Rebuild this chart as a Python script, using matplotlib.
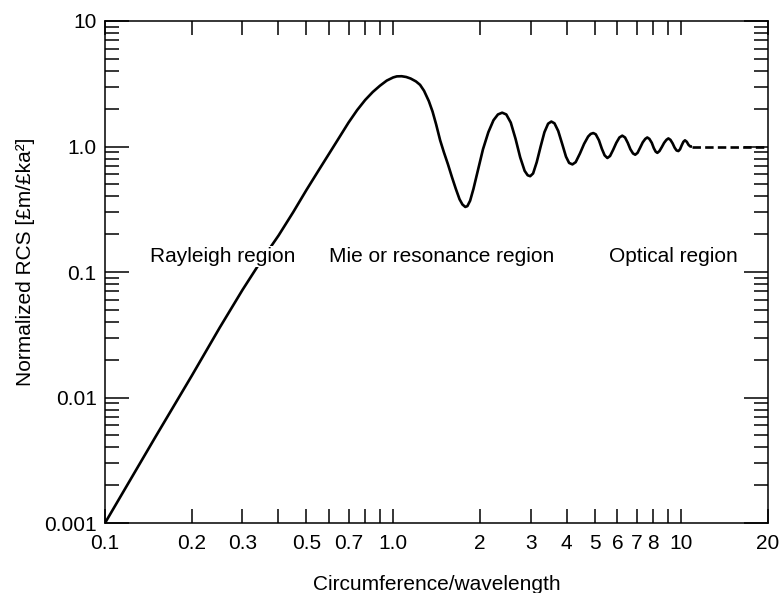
import matplotlib.pyplot as plt
from matplotlib.ticker import FixedLocator, NullLocator

plt.rcParams['font.family'] = ['Liberation Sans', 'DejaVu Sans']

# values (circumference/wavelength vs normalized RCS)
ka = [0.1, 0.15, 0.2, 0.25, 0.3, 0.35, 0.4, 0.45, 0.5, 0.55, 0.6, 0.65, 0.7, 0.75,
      0.8, 0.85, 0.9, 0.95, 1.0, 1.03, 1.07, 1.11, 1.15, 1.2, 1.24, 1.28, 1.33,
      1.37, 1.41, 1.456, 1.5, 1.55, 1.6, 1.65, 1.7, 1.74, 1.78, 1.81, 1.85, 1.9,
      1.97, 2.05, 2.14, 2.23, 2.31, 2.39, 2.47, 2.56, 2.66, 2.76, 2.86, 2.93,
      2.99, 3.06, 3.15, 3.25, 3.35, 3.45, 3.54, 3.63, 3.74, 3.86, 3.98, 4.08,
      4.19, 4.3, 4.45, 4.6, 4.75, 4.85, 4.95, 5.05, 5.18, 5.3, 5.42, 5.54, 5.66,
      5.8, 5.95, 6.1, 6.24, 6.38, 6.52, 6.66, 6.8, 6.92, 7.05, 7.2, 7.35, 7.5,
      7.62, 7.75, 7.9, 8.03, 8.15, 8.26, 8.4, 8.56, 8.72, 8.88, 9.02, 9.17, 9.33,
      9.48, 9.63, 9.77, 9.9, 10.03, 10.17, 10.3, 10.45, 10.6, 10.75, 10.9]
rcs = [0.001, 0.0049, 0.0149, 0.036, 0.072, 0.125, 0.195, 0.3, 0.45, 0.64, 0.88,
       1.18, 1.55, 1.95, 2.35, 2.72, 3.05, 3.35, 3.55, 3.62, 3.63, 3.58, 3.48,
       3.3, 3.1, 2.78, 2.3, 1.9, 1.5, 1.12, 0.9, 0.72, 0.57, 0.46, 0.38, 0.345,
       0.33, 0.335, 0.37, 0.46, 0.65, 0.95, 1.3, 1.62, 1.8, 1.86, 1.8, 1.55,
       1.15, 0.82, 0.64, 0.59, 0.58, 0.61, 0.75, 1.0, 1.3, 1.52, 1.58, 1.53,
       1.33, 1.05, 0.83, 0.74, 0.72, 0.75, 0.88, 1.05, 1.2, 1.26, 1.28, 1.25,
       1.12, 0.96, 0.85, 0.81, 0.84, 0.94, 1.07, 1.18, 1.22, 1.18, 1.07, 0.95,
       0.88, 0.86, 0.89, 0.98, 1.08, 1.15, 1.18, 1.15, 1.07, 0.97, 0.91, 0.89,
       0.92, 0.99, 1.07, 1.13, 1.16, 1.13, 1.06, 0.98, 0.93, 0.92, 0.95, 1.02,
       1.09, 1.12, 1.09, 1.03, 1.0, 1.0]
optical_x = [10.9, 20]
optical_y = [1.0, 1.0]

xticks = [0.1, 0.2, 0.3, 0.4, 0.5, 0.6, 0.7, 0.8, 0.9, 1.0,
          2, 3, 4, 5, 6, 7, 8, 9, 10, 20]
xlabels = ['0.1', '0.2', '0.3', '', '0.5', '', '0.7', '', '', '1.0',
           '2', '3', '4', '5', '6', '7', '8', '', '10', '20']
yticks = [0.001, 0.01, 0.1, 1.0, 10]
ylabels = ['0.001', '0.01', '0.1', '1.0', '10']

regions = ['Rayleigh region', 'Mie or resonance region', 'Optical region']
region_x = [0.257, 1.47, 9.4]
region_y = [0.133, 0.133, 0.133]

fig = plt.figure(figsize=(7.79, 5.93), dpi=100)
ax = fig.add_axes([0.1348, 0.118, 0.8511, 0.8466])

ax.plot(ka, rcs, color='black', lw=1.9, solid_capstyle='butt')
ax.plot(optical_x, optical_y, color='black', lw=1.9, ls=(0, (3.2, 1.6)))

ax.set_xscale('log')
ax.set_yscale('log')
ax.set_xlim(0.1, 20)
ax.set_ylim(0.001, 10)

ax.xaxis.set_major_locator(FixedLocator(xticks))
ax.set_xticklabels(xlabels)
ax.xaxis.set_minor_locator(NullLocator())
ax.set_yticks(yticks)
ax.set_yticklabels(ylabels)

ax.tick_params(axis='both', which='both', direction='in', top=True, right=True,
               labelsize=15, color='black', width=1.1)
ax.tick_params(axis='x', which='major', length=10, pad=8)
ax.tick_params(axis='y', which='major', length=17, pad=6)
ax.tick_params(axis='y', which='minor', length=10)

for s in ax.spines.values():
    s.set_linewidth(1.1)

# region labels sit on a white patch so the curve breaks behind them
for name, tx, ty in zip(regions, region_x, region_y):
    ax.text(tx, ty, name, ha='center', va='center', fontsize=15, zorder=5,
            bbox=dict(facecolor='white', edgecolor='none', pad=1))

ax.set_xlabel('Circumference/wavelength', fontsize=15, labelpad=16)
ax.set_ylabel('Normalized RCS [£m/£ka²]', fontsize=15, labelpad=7)
ax.yaxis.set_label_coords(-0.105, 0.52)

fig.savefig('out.png', dpi=100)
